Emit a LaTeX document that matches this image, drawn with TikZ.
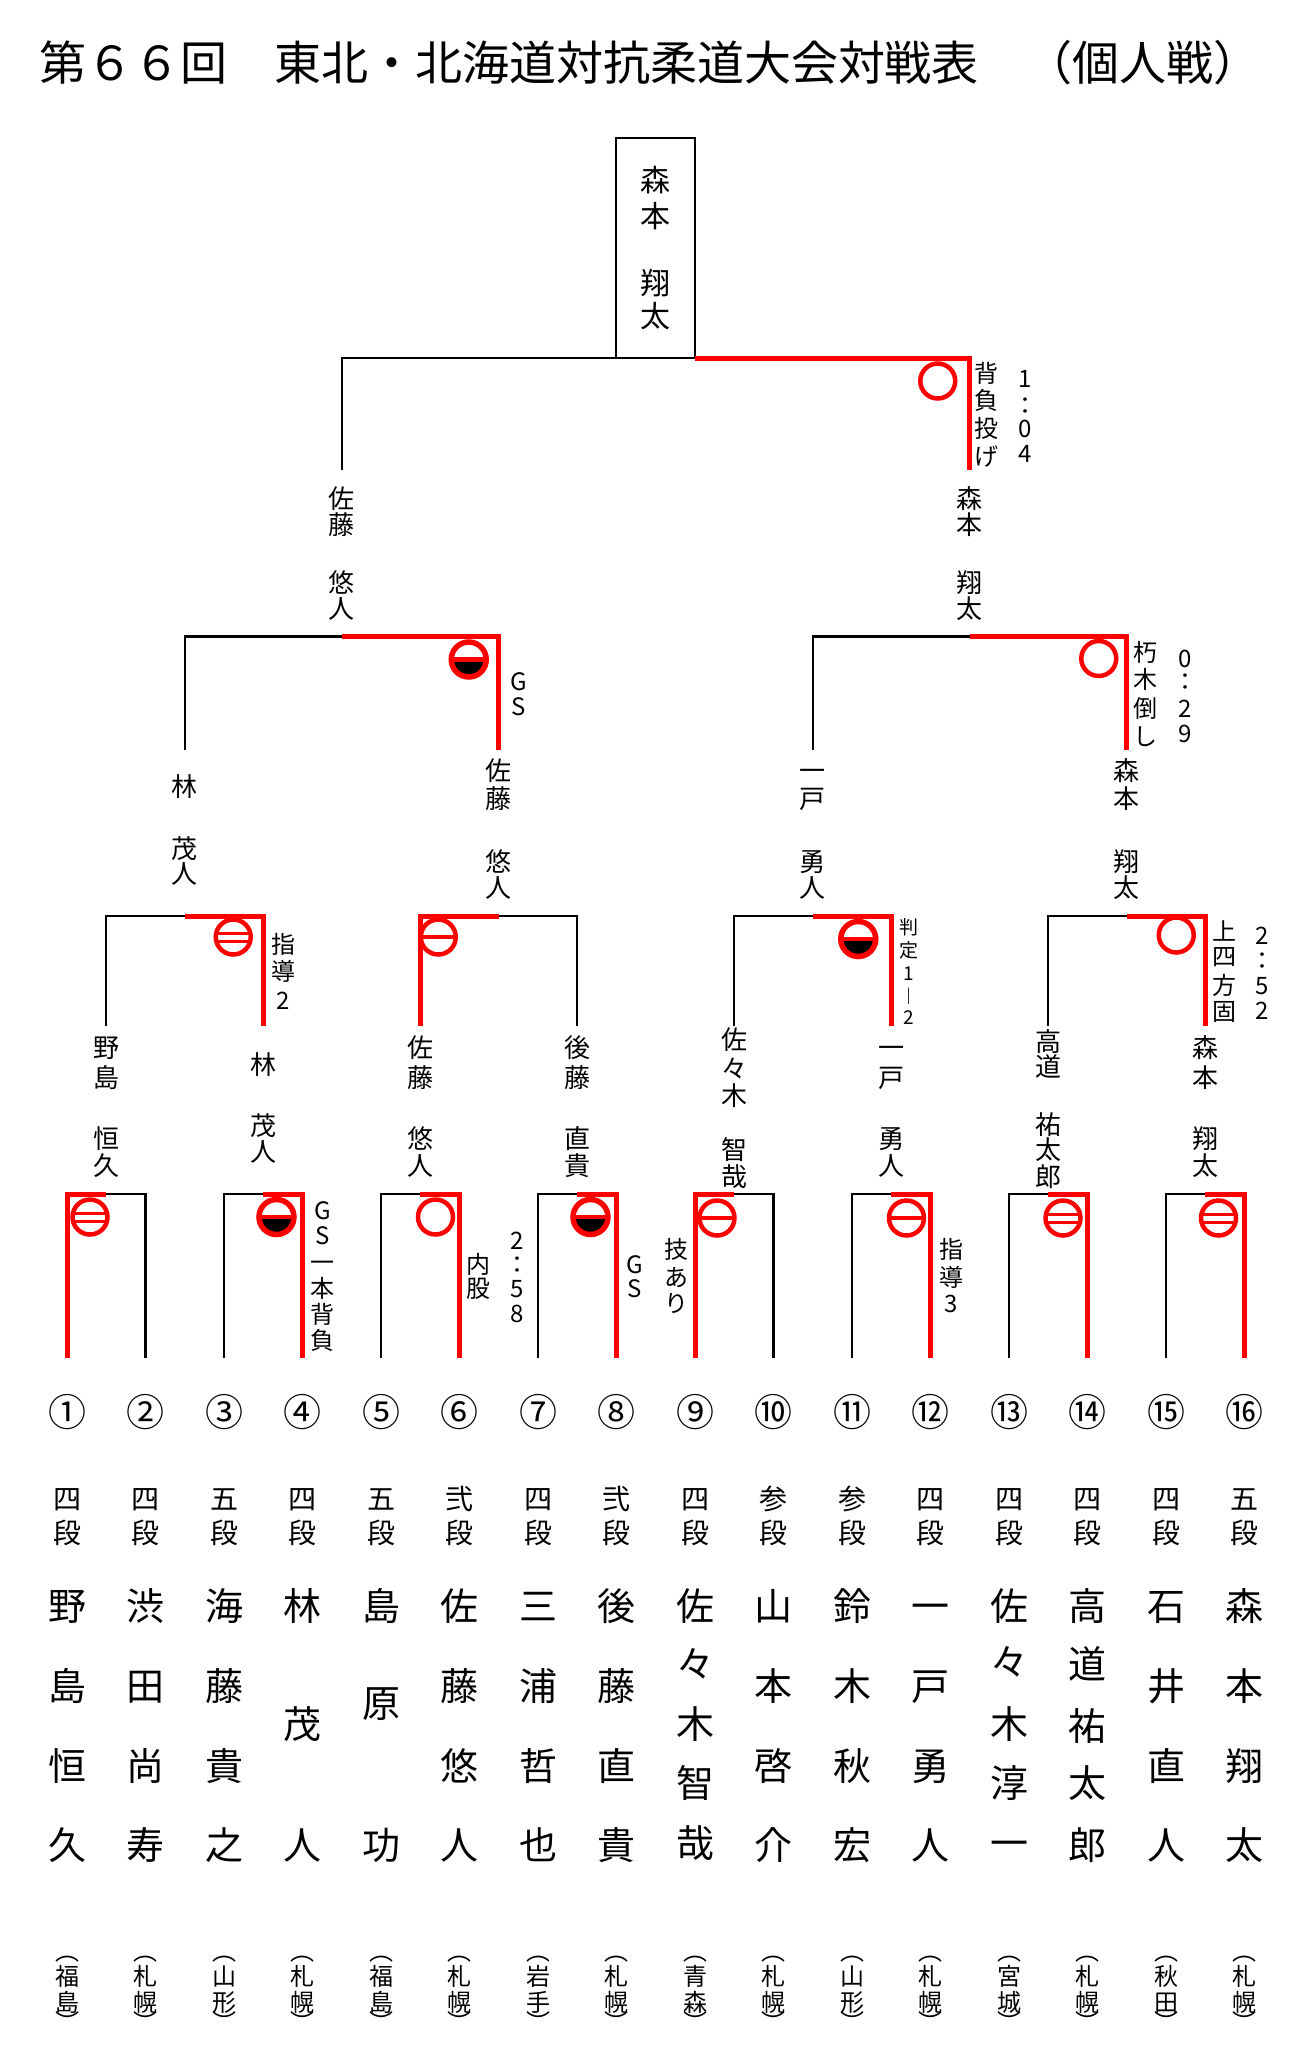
\documentclass[tikz,border=0pt]{standalone}
\usepackage{fontspec}
\setmainfont{Noto Sans CJK JP}
\newcommand\jf[1]{\fontsize{#1}{#1}\selectfont\rule[-0.12em]{0pt}{1em}}
\newcommand\vstack[4][]{%
  \foreach \vy/\vc [count=\vi] in {#4}{\node[ch,#1] (#2-\vi) at (#3,\vy) {\vc};}}
\newcommand\halfmark[2]{%
  \fill[black] (#2) ++(-17.5pt,0pt) arc[start angle=180,end angle=360,radius=17.5pt] -- cycle;
  \node[mkring, line width=5.5pt, path picture={\draw[red,line width=4.5pt] (path picture bounding box.west) -- (path picture bounding box.east);}] (#1) at (#2) {};}
\tikzset{
  ch/.style={inner sep=0pt, outer sep=0pt, font=\jf{26}},
  note/.style={font=\jf{24}},
  small/.style={font=\jf{19}},
  rank/.style={font=\jf{28}},
  big/.style={font=\jf{38}},
  numf/.style={font=\jf{38}},
  pref/.style={font=\jf{24}},
  blk/.style={line width=2.2pt, black, line join=miter},
  win/.style={line width=5pt, red, line join=miter},
  mkring/.style={circle, draw=red, line width=4.5pt, minimum size=35pt, inner sep=0pt, outer sep=0pt},
  mkippon/.style={mkring},
  mkwaza/.style={mkring, path picture={\draw[red,line width=3.5pt] (path picture bounding box.west) -- (path picture bounding box.east);}},
  mkshido/.style={mkring, path picture={\draw[red,line width=3pt] ([yshift=4pt]path picture bounding box.west) -- ([yshift=4pt]path picture bounding box.east) ([yshift=-4pt]path picture bounding box.west) -- ([yshift=-4pt]path picture bounding box.east);}},
}
\begin{document}
\begin{tikzpicture}[x=1pt,y=-1pt]
\fill[white] (0,0) rectangle (1296,2048);
\useasboundingbox (0,0) rectangle (1296,2048);
% title
\node[ch, font=\jf{47}, anchor=west] (title) at (39,62.5) {第６６回　東北・北海道対抗柔道大会対戦表　（個人戦）};
% coordinates
\foreach \k in {0,...,15}{\coordinate (L\k) at ({67+78.5*\k},1358);}
\foreach \j in {0,...,7}{\coordinate (T1-\j) at ({106.25+157*\j},1194); \coordinate (Q\j) at ({106.25+157*\j},1026);}
\foreach \m in {0,...,3}{\coordinate (T2-\m) at ({184.75+314*\m},916); \coordinate (S\m) at ({184.75+314*\m},750);}
\foreach \n in {0,1}{\coordinate (T3-\n) at ({341.75+628*\n},636.5); \coordinate (F\n) at ({341.75+628*\n},470);}
\node[draw, line width=2.2pt, minimum width=79pt, minimum height=220pt, inner sep=0pt, outer sep=0pt] (champ) at (655.75,248) {};
% losers (black)
\foreach \l/\j in {1/0,2/1,4/2,6/3,9/4,10/5,12/6,14/7}{\draw[blk] (L\l) |- (T1-\j);}
\foreach \l/\m in {0/0,3/1,4/2,6/3}{\draw[blk] (Q\l) |- (T2-\m);}
\foreach \l/\n in {0/0,2/1}{\draw[blk] (S\l) |- (T3-\n);}
\draw[blk] (F0) |- (champ.south west);
% winners (red)
\foreach \l/\j in {0/0,3/1,5/2,7/3,8/4,11/5,13/6,15/7}{\draw[win] (L\l) |- (T1-\j);}
\foreach \l/\m in {1/0,2/1,5/2,7/3}{\draw[win] (Q\l) |- (T2-\m);}
\foreach \l/\n in {1/0,3/1}{\draw[win] (S\l) |- (T3-\n);}
\draw[win] (F1) |- (champ.south east);
% marks
\node[mkippon] (jF) at (937.75,381) {};
\halfmark{jSF0}{468.75,659.5}
\node[mkippon] (jSF1) at (1098.75,658.5) {};
\node[mkshido] (jQ0) at (233.25,937) {};
\node[mkwaza] (jQ1) at (438.25,937) {};
\halfmark{jQ2}{858.25,939}
\node[mkippon] (jQ3) at (1176.25,935) {};
\node[mkshido] (jR0) at (90,1217) {};
\halfmark{jR1}{276.5,1217}
\node[mkippon] (jR2) at (435.5,1217) {};
\halfmark{jR3}{590.5,1217}
\node[mkwaza] (jR4) at (717,1218) {};
\node[mkwaza] (jR5) at (906.5,1218) {};
\node[mkshido] (jR6) at (1063,1218) {};
\node[mkshido] (jR7) at (1218.5,1218) {};
% champion
\vstack[font=\jf{30}]{champN}{655.75}{180/森,216/本,283/翔,316/太}
% final names
\vstack{fA}{341.75}{499/佐,525/藤,583/悠,609/人}
\vstack{fB}{969.75}{499/森,525/本,583/翔,609/太}
% semifinal names
\vstack{sA}{184.75}{787/林,849/茂,874/人}
\vstack{sB}{498.75}{771/佐,799/藤,862/悠,888/人}
\vstack{sC}{812.75}{771/一,799/戸,862/勇,888/人}
\vstack{sD}{1126.75}{771/森,799/本,862/翔,888/太}
% quarterfinal names
\vstack{qA}{106.25}{1048/野,1078/島,1139/恒,1166/久}
\vstack{qB}{263.25}{1065/林,1126/茂,1152/人}
\vstack{qC}{420.25}{1048/佐,1078/藤,1139/悠,1166/人}
\vstack{qD}{577.25}{1048/後,1078/藤,1139/直,1166/貴}
\vstack{qE}{734.25}{1040/佐,1069/々,1096/木,1150/智,1177/哉}
\vstack{qF}{891.25}{1048/一,1078/戸,1139/勇,1166/人}
\vstack{qG}{1048.25}{1042/高,1067/道,1125/祐,1150/太,1177/郎}
\vstack{qH}{1205.25}{1048/森,1078/本,1139/翔,1166/太}
% annotations
\vstack[note]{aF1}{986}{373/背,400/負,428/投,456/げ}
\vstack[note]{aF2}{1025}{378/1,405/：,428/0,453/4}
\vstack[note]{aS1}{519}{681/G,706/S}
\vstack[note]{aS2}{1145}{652/朽,679/木,708/倒,736/し}
\vstack[note]{aS3}{1185}{658/0,681/：,708/2,733/9}
\vstack[note]{aQ0}{283}{944/指,971/導,1000/2}
\vstack[small]{aQ2}{909}{927/判,950/定,973/1,996/︱,1017/2}
\vstack[note]{aQ3}{1224.5}{931/上,956/四,985/方,1011/固}
\vstack[note]{aQ4}{1262}{935/2,960/：,985/5,1010/2}
\vstack[note]{aR1}{322.4}{1210/G,1235/S,1262/一,1288/本,1314/背,1340/負}
\vstack[note]{aR2}{478}{1264/内,1288/股}
\vstack[note]{aR3}{517.6}{1240/2,1264/：,1288/5,1313/8}
\vstack[note]{aR4}{635}{1264/G,1288/S}
\vstack[note]{aR5}{676}{1249/技,1277/あ,1303/り}
\vstack[note]{aR6}{951}{1249/指,1277/導,1303/3}
% numbers and ranks
\foreach \k/\s in {0/①,1/②,2/③,3/④,4/⑤,5/⑥,6/⑦,7/⑧,8/⑨,9/⑩,10/⑪,11/⑫,12/⑬,13/⑭,14/⑮,15/⑯}{\node[ch,numf] (num\k) at ({67+78.5*\k},1412) {\s};}
\foreach \k/\a in {0/四,1/四,2/五,3/四,4/五,5/弐,6/四,7/弐,8/四,9/参,10/参,11/四,12/四,13/四,14/四,15/五}{%
  \node[ch,rank] (rk\k a) at ({67+78.5*\k},1499) {\a};
  \node[ch,rank] (rk\k b) at ({67+78.5*\k},1533) {段};}
% player names
\vstack[big]{p0}{67}{1606/野,1686/島,1766/恒,1845/久}
\vstack[big]{p1}{145.5}{1606/渋,1686/田,1766/尚,1845/寿}
\vstack[big]{p2}{224}{1606/海,1686/藤,1766/貴,1845/之}
\vstack[big]{p3}{302.5}{1606/林,1724/茂,1845/人}
\vstack[big]{p4}{381}{1606/島,1703/原,1845/功}
\vstack[big]{p5}{459.5}{1606/佐,1686/藤,1766/悠,1845/人}
\vstack[big]{p6}{538}{1606/三,1686/浦,1766/哲,1845/也}
\vstack[big]{p7}{616.5}{1606/後,1686/藤,1766/直,1845/貴}
\vstack[big]{p8}{695}{1606/佐,1664/々,1724/木,1783/智,1843/哉}
\vstack[big]{p9}{773.5}{1606/山,1686/本,1766/啓,1845/介}
\vstack[big]{p10}{852}{1606/鈴,1686/木,1766/秋,1845/宏}
\vstack[big]{p11}{930.5}{1606/一,1686/戸,1766/勇,1845/人}
\vstack[big]{p12}{1009}{1606/佐,1662/々,1724/木,1783/淳,1843/一}
\vstack[big]{p13}{1087.5}{1606/高,1664/道,1726/祐,1783/太,1845/郎}
\vstack[big]{p14}{1166}{1606/石,1686/井,1766/直,1845/人}
\vstack[big]{p15}{1244.5}{1606/森,1686/本,1766/翔,1845/太}
% prefectures
\foreach \k/\a/\b in {0/福/島,1/札/幌,2/山/形,3/札/幌,4/福/島,5/札/幌,6/岩/手,7/札/幌,8/青/森,9/札/幌,10/山/形,11/札/幌,12/宮/城,13/札/幌,14/秋/田,15/札/幌}{%
  \node[ch,pref] (pf\k o) at ({67+78.5*\k},1951) {︵};
  \node[ch,pref] (pf\k a) at ({67+78.5*\k},1976) {\a};
  \node[ch,pref] (pf\k b) at ({67+78.5*\k},2002) {\b};
  \node[ch,pref] (pf\k c) at ({67+78.5*\k},2022) {︶};}
\end{tikzpicture}
\end{document}
